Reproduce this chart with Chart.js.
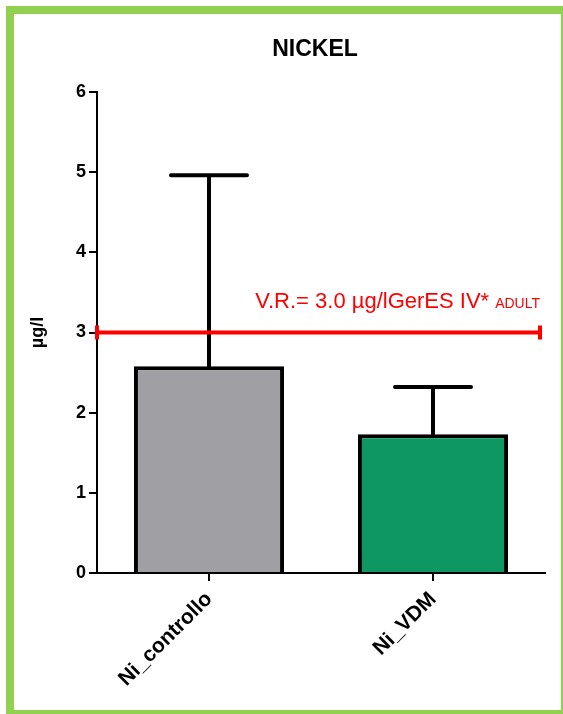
<!DOCTYPE html>
<html>
<head>
<meta charset="utf-8">
<script src="https://cdn.jsdelivr.net/npm/chart.js@4.4.0/dist/chart.umd.min.js"></script>
<style>
  html, body { margin: 0; padding: 0; overflow: hidden; background: #fff; }
  #frame {
    position: absolute; left: 6px; top: 6px;
    width: 547px; height: 696px;
    border: 8px solid #92d050;
  }
  #nickelChart { position: absolute; left: 0; top: 0; }
</style>
</head>
<body>
<div id="frame"></div>
<canvas id="nickelChart" width="563" height="714"></canvas>
<script>
// Nickel data
var categories = ["Ni_controllo", "Ni_VDM"];
var means = [2.58, 1.73];
var errTop = [4.96, 2.32];
var yTicks = [0, 1, 2, 3, 4, 5, 6];
var refValue = 3.0;
var refLabel = "V.R.= 3.0 \u00b5g/lGerES IV*";
var refLabelSmall = "ADULT";
var chartTitle = "NICKEL";

var fontFam = "'Liberation Sans', Arial, sans-serif";

// title centred over the plot area
var plotTitle = {
    id: 'plotTitle',
    afterDraw: function(chart) {
        var c = chart.ctx;
        var a = chart.chartArea;
        c.save();
        c.fillStyle = '#000';
        c.font = 'bold 23px ' + fontFam;
        c.textAlign = 'center';
        c.textBaseline = 'middle';
        c.fillText(chartTitle, (a.left + a.right) / 2 - 6, 50);
        c.restore();
    }
};

// error bars (upper only) on top of each bar
var errorBars = {
    id: 'errorBars',
    afterDatasetsDraw: function(chart) {
        var c = chart.ctx;
        var x = chart.scales.x, y = chart.scales.y;
        c.save();
        c.strokeStyle = '#000';
        c.lineWidth = 4;
        c.lineCap = 'round';
        for (var i = 0; i < means.length; i++) {
            var px = x.getPixelForValue(i);
            var y0 = y.getPixelForValue(means[i]);
            var y1 = y.getPixelForValue(errTop[i]);
            c.beginPath();
            c.moveTo(px, y0);
            c.lineTo(px, y1);
            c.moveTo(px - 38, y1);
            c.lineTo(px + 38, y1);
            c.stroke();
        }
        c.restore();
    }
};

// red reference line + label
var refLine = {
    id: 'refLine',
    afterDatasetsDraw: function(chart) {
        var c = chart.ctx;
        var a = chart.chartArea;
        var py = chart.scales.y.getPixelForValue(refValue);
        var x0 = a.left, x1 = a.right - 5;
        c.save();
        c.strokeStyle = '#ff0000';
        c.lineWidth = 4;
        c.beginPath();
        c.moveTo(x0, py);
        c.lineTo(x1, py);
        c.moveTo(x0, py - 7);
        c.lineTo(x0, py + 7);
        c.moveTo(x1, py - 7);
        c.lineTo(x1, py + 7);
        c.stroke();
        c.fillStyle = '#ff0000';
        c.textAlign = 'right';
        c.textBaseline = 'alphabetic';
        c.font = '14px ' + fontFam;
        var w = c.measureText(refLabelSmall).width;
        c.fillText(refLabelSmall, x1, py - 25);
        c.font = '22px ' + fontFam;
        c.fillText(refLabel, x1 - w - 6, py - 25);
        c.restore();
    }
};

var ctx = document.getElementById("nickelChart");
var nickelChart = new Chart(ctx, {
    type: 'bar',
    data: {
        labels: categories,
        datasets: [{
            data: means,
            backgroundColor: ['#a09fa4', '#0e9763'],
            borderColor: '#000',
            borderWidth: 4,
            borderSkipped: 'bottom',
            barPercentage: 0.67,
            categoryPercentage: 1.0
        }]
    },
    options: {
        responsive: false,
        animation: false,
        layout: { padding: { left: 22, right: 18, top: 92, bottom: 0 } },
        plugins: {
            legend: { display: false },
            tooltip: { enabled: false },
            title: { display: false }
        },
        scales: {
            x: {
                grid: { drawOnChartArea: false, offset: false, color: '#000', lineWidth: 2, tickLength: 8 },
                border: { color: '#000', width: 2 },
                ticks: {
                    color: '#000',
                    font: { family: fontFam, size: 21, weight: 'bold' },
                    minRotation: 45, maxRotation: 45, padding: 6
                },
                afterFit: function(s) { s.height = 141; }
            },
            y: {
                min: 0, max: 6,
                afterBuildTicks: function(s) {
                    s.ticks = yTicks.map(function(v) { return { value: v }; });
                },
                grid: { drawOnChartArea: false, color: '#000', lineWidth: 2, tickLength: 8 },
                border: { color: '#000', width: 2 },
                ticks: {
                    color: '#000',
                    font: { family: fontFam, size: 18, weight: 'bold' },
                    padding: 3
                },
                title: {
                    display: true,
                    text: '\u00b5g/l',
                    color: '#000',
                    font: { family: fontFam, size: 18, weight: 'bold' },
                    padding: { top: 5, bottom: 0 }
                },
                afterFit: function(s) { s.width = 75; }
            }
        }
    },
    plugins: [errorBars, refLine, plotTitle]
});
</script>
</body>
</html>
